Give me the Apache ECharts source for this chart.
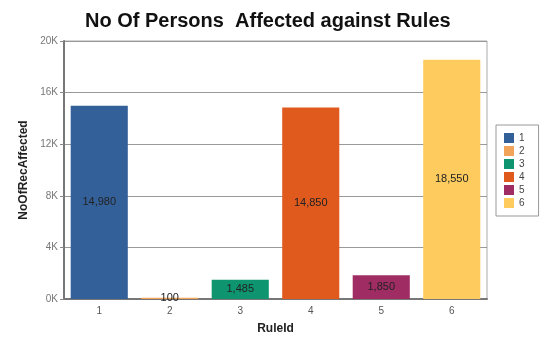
<!DOCTYPE html>
<html>
<head>
	<meta charset="utf-8">
	<title>No Of Persons Affected against Rules</title>
	<style>
		html, body { margin: 0; padding: 0; background: #fff; }
		#chart { width: 548px; height: 340px; }
	</style>
</head>
<body>
<div id="chart"></div>
<script src="https://cdn.jsdelivr.net/npm/echarts@6/dist/echarts.min.js"></script>
<script>
	var ruleIds = ['1', '2', '3', '4', '5', '6'];
	var affected = [14980, 100, 1485, 14850, 1850, 18550];
	var colors = ['#34609a', '#f2a55a', '#0e9570', '#e05a1e', '#a02c64', '#fdcb5e'];
	var yTicks = [0, 4000, 8000, 12000, 16000, 20000];

	// one series per rule so the legend gets one entry each; stacked so each bar fills its slot
	var series = ruleIds.map(function (id, i) {
		var data = ruleIds.map(function (x, j) { return j === i ? affected[i] : '-'; });
		return {
			name: id,
			type: 'bar',
			stack: 'all',
			barCategoryGap: '19%',
			data: data,
			itemStyle: { color: colors[i] },
			label: {
				show: true,
				position: 'inside',
				color: '#222',
				fontFamily: 'Liberation Sans',
				fontSize: 11,
				formatter: function (p) { return p.value.toLocaleString('en-US'); }
			}
		};
	});

	var option = {
		animation: false,
		title: {
			text: 'No Of Persons  Affected against Rules',
			left: 85,
			top: 6,
			padding: 0,
			textStyle: { fontFamily: 'Liberation Sans', fontSize: 20, fontWeight: 'bold', color: '#111', lineHeight: 30 }
		},
		legend: {
			orient: 'vertical',
			left: 496,
			top: 125,
			width: 44,
			padding: [8, 14, 8, 8],
			itemGap: 3,
			itemWidth: 10,
			itemHeight: 10,
			borderColor: '#999',
			borderWidth: 1,
			icon: 'rect',
			data: ruleIds,
			textStyle: { fontFamily: 'Liberation Sans', fontSize: 10, color: '#444' }
		},
		grid: {
			left: 64, right: 61, top: 41, bottom: 40,
			show: true,
			borderColor: '#aaa',
			borderWidth: 1
		},
		xAxis: {
			type: 'category',
			data: ruleIds,
			name: 'RuleId',
			nameLocation: 'middle',
			nameGap: 24,
			nameTextStyle: { fontFamily: 'Liberation Sans', fontSize: 12, fontWeight: 'bold', color: '#222' },
			axisLine: { lineStyle: { color: '#777', width: 2 } },
			axisTick: { show: false },
			axisLabel: { fontFamily: 'Liberation Sans', fontSize: 10, color: '#555', margin: 7 }
		},
		yAxis: {
			type: 'value',
			min: yTicks[0],
			max: yTicks[yTicks.length - 1],
			interval: 4000,
			name: 'NoOfRecAffected',
			nameLocation: 'middle',
			nameGap: 29,
			nameTextStyle: { fontFamily: 'Liberation Sans', fontSize: 12, fontWeight: 'bold', color: '#222' },
			axisLine: { show: true, lineStyle: { color: '#777', width: 2 } },
			axisTick: { show: true, length: 4, lineStyle: { color: '#888' } },
			axisLabel: {
				fontFamily: 'Liberation Sans', fontSize: 10, color: '#777', margin: 6,
				formatter: function (v) { return (v / 1000) + 'K'; }
			},
			splitLine: { lineStyle: { color: '#999', width: 1 } }
		},
		series: series
	};

	var myChart = echarts.init(document.getElementById('chart'));
	myChart.setOption(option);
</script>
</body>
</html>
